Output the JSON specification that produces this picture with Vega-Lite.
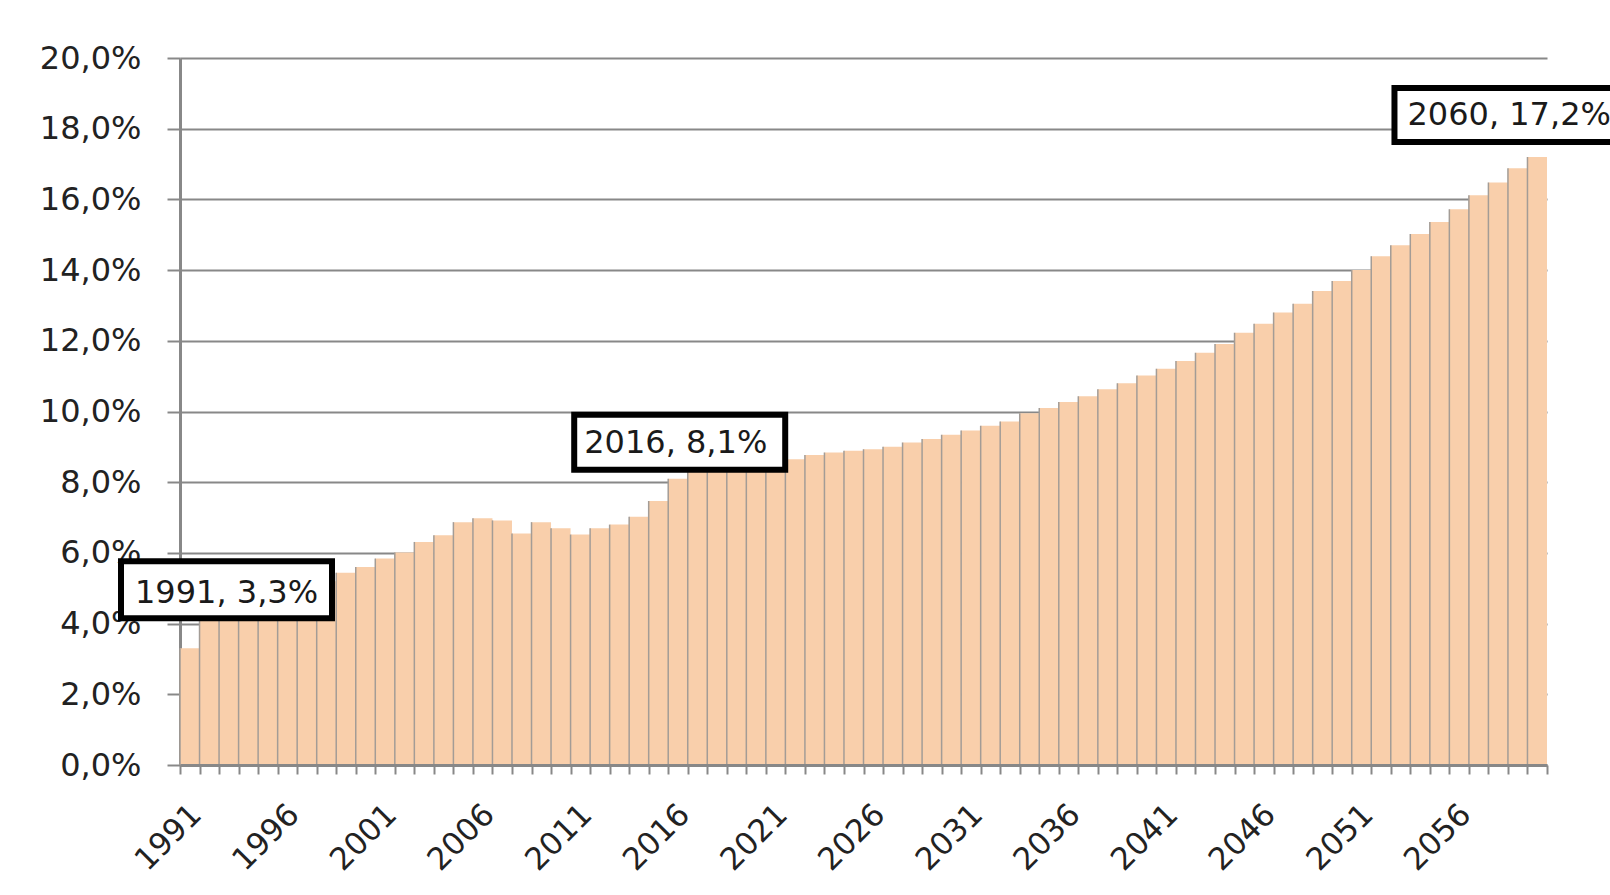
{
  "$schema": "https://vega.github.io/schema/vega-lite/v6.json",
  "width": 1367,
  "height": 707,
  "autosize": {"type": "none"},
  "padding": {"left": 180, "top": 58, "right": 63, "bottom": 130},
  "background": "white",
  "config": {"view": {"stroke": null}, "font": "DejaVu Sans"},
  "datasets": {
    "series": [
      {"year": 1991, "value": 3.3}, {"year": 1992, "value": 4.3}, {"year": 1993, "value": 4.5},
      {"year": 1994, "value": 4.7}, {"year": 1995, "value": 4.8}, {"year": 1996, "value": 4.9},
      {"year": 1997, "value": 5.0}, {"year": 1998, "value": 5.2}, {"year": 1999, "value": 5.44},
      {"year": 2000, "value": 5.6}, {"year": 2001, "value": 5.84}, {"year": 2002, "value": 6.01},
      {"year": 2003, "value": 6.31}, {"year": 2004, "value": 6.5}, {"year": 2005, "value": 6.87},
      {"year": 2006, "value": 6.98}, {"year": 2007, "value": 6.92}, {"year": 2008, "value": 6.55},
      {"year": 2009, "value": 6.87}, {"year": 2010, "value": 6.7}, {"year": 2011, "value": 6.52},
      {"year": 2012, "value": 6.7}, {"year": 2013, "value": 6.8}, {"year": 2014, "value": 7.02},
      {"year": 2015, "value": 7.47}, {"year": 2016, "value": 8.1}, {"year": 2017, "value": 8.4},
      {"year": 2018, "value": 8.45}, {"year": 2019, "value": 8.5}, {"year": 2020, "value": 8.55},
      {"year": 2021, "value": 8.6}, {"year": 2022, "value": 8.65}, {"year": 2023, "value": 8.77},
      {"year": 2024, "value": 8.84}, {"year": 2025, "value": 8.89}, {"year": 2026, "value": 8.93},
      {"year": 2027, "value": 9.0}, {"year": 2028, "value": 9.12}, {"year": 2029, "value": 9.22},
      {"year": 2030, "value": 9.34}, {"year": 2031, "value": 9.46}, {"year": 2032, "value": 9.6},
      {"year": 2033, "value": 9.72}, {"year": 2034, "value": 9.95}, {"year": 2035, "value": 10.1},
      {"year": 2036, "value": 10.27}, {"year": 2037, "value": 10.43}, {"year": 2038, "value": 10.63},
      {"year": 2039, "value": 10.8}, {"year": 2040, "value": 11.02}, {"year": 2041, "value": 11.21},
      {"year": 2042, "value": 11.43}, {"year": 2043, "value": 11.66}, {"year": 2044, "value": 11.91},
      {"year": 2045, "value": 12.23}, {"year": 2046, "value": 12.48}, {"year": 2047, "value": 12.8},
      {"year": 2048, "value": 13.05}, {"year": 2049, "value": 13.41}, {"year": 2050, "value": 13.69},
      {"year": 2051, "value": 14.0}, {"year": 2052, "value": 14.39}, {"year": 2053, "value": 14.7},
      {"year": 2054, "value": 15.02}, {"year": 2055, "value": 15.36}, {"year": 2056, "value": 15.72},
      {"year": 2057, "value": 16.12}, {"year": 2058, "value": 16.48}, {"year": 2059, "value": 16.88},
      {"year": 2060, "value": 17.2}
    ],
    "notes": [
      {"year": 1991, "value": 3.3, "label": "1991, 3,3%"},
      {"year": 2016, "value": 8.1, "label": "2016, 8,1%"},
      {"year": 2060, "value": 17.2, "label": "2060, 17,2%"}
    ]
  },
  "layer": [
    {
      "data": {"name": "series"},
      "mark": {"type": "bar", "color": "#F9CFAB"},
      "encoding": {
        "x": {
          "field": "year", "type": "ordinal",
          "scale": {"paddingInner": 0, "paddingOuter": 0},
          "axis": {
            "title": null,
            "labelAngle": -45,
            "labelAlign": "right",
            "labelBaseline": "top",
            "labelFontSize": 31,
            "labelColor": "#222222",
            "labelPadding": 25,
            "labelOffset": -4,
            "labelExpr": "(datum.value - 1991) % 5 == 0 ? datum.label : ''",
            "tickBand": "extent",
            "tickSize": 9,
            "tickWidth": 2,
            "tickColor": "#888888",
            "domainColor": "#888888",
            "domainWidth": 3,
            "zindex": 1
          }
        },
        "y": {
          "field": "value", "type": "quantitative",
          "scale": {"domain": [0, 20], "nice": false},
          "axis": {
            "title": null,
            "values": [0, 2, 4, 6, 8, 10, 12, 14, 16, 18, 20],
            "labelExpr": "replace(format(datum.value, '.1f'), '.', ',') + '%'",
            "labelFontSize": 32,
            "labelColor": "#222222",
            "labelPadding": 26,
            "tickSize": 13,
            "tickWidth": 2,
            "tickColor": "#888888",
            "domainColor": "#888888",
            "domainWidth": 3,
            "gridColor": "#888888",
            "gridWidth": 2,
            "gridOpacity": 1
          }
        }
      }
    },
    {
      "data": {"name": "series"},
      "mark": {"type": "rule", "color": "#A39C96", "strokeWidth": 1.5},
      "encoding": {
        "x": {"field": "year", "type": "ordinal", "bandPosition": 0},
        "y": {"field": "value", "type": "quantitative"},
        "y2": {"datum": 0}
      }
    },
    {
      "data": {"name": "notes"},
      "transform": [{"filter": "datum.year == 1991"}],
      "mark": {"type": "rect", "fill": "white", "stroke": "black", "strokeWidth": 6,
               "xOffset": -59, "x2Offset": 152, "yOffset": -87, "y2Offset": -30},
      "encoding": {
        "x": {"field": "year", "type": "ordinal", "bandPosition": 0},
        "x2": {"field": "year", "bandPosition": 0},
        "y": {"field": "value", "type": "quantitative"},
        "y2": {"field": "value"}
      }
    },
    {
      "data": {"name": "notes"},
      "transform": [{"filter": "datum.year == 1991"}],
      "mark": {"type": "text", "align": "left", "baseline": "middle", "fontSize": 32, "color": "#1a1a1a", "dx": -45, "dy": -55},
      "encoding": {
        "x": {"field": "year", "type": "ordinal", "bandPosition": 0},
        "y": {"field": "value", "type": "quantitative"},
        "text": {"field": "label"}
      }
    },
    {
      "data": {"name": "notes"},
      "transform": [{"filter": "datum.year == 2016"}],
      "mark": {"type": "rect", "fill": "white", "stroke": "black", "strokeWidth": 6,
               "xOffset": -94, "x2Offset": 117, "yOffset": -64, "y2Offset": -9},
      "encoding": {
        "x": {"field": "year", "type": "ordinal", "bandPosition": 0},
        "x2": {"field": "year", "bandPosition": 0},
        "y": {"field": "value", "type": "quantitative"},
        "y2": {"field": "value"}
      }
    },
    {
      "data": {"name": "notes"},
      "transform": [{"filter": "datum.year == 2016"}],
      "mark": {"type": "text", "align": "left", "baseline": "middle", "fontSize": 32, "color": "#1a1a1a", "dx": -84, "dy": -36},
      "encoding": {
        "x": {"field": "year", "type": "ordinal", "bandPosition": 0},
        "y": {"field": "value", "type": "quantitative"},
        "text": {"field": "label"}
      }
    },
    {
      "data": {"name": "notes"},
      "transform": [{"filter": "datum.year == 2060"}],
      "mark": {"type": "rect", "fill": "white", "stroke": "black", "strokeWidth": 6, "clip": false,
               "xOffset": -133, "x2Offset": 120, "yOffset": -69, "y2Offset": -15},
      "encoding": {
        "x": {"field": "year", "type": "ordinal", "bandPosition": 0},
        "x2": {"field": "year", "bandPosition": 0},
        "y": {"field": "value", "type": "quantitative"},
        "y2": {"field": "value"}
      }
    },
    {
      "data": {"name": "notes"},
      "transform": [{"filter": "datum.year == 2060"}],
      "mark": {"type": "text", "align": "left", "baseline": "middle", "fontSize": 32, "color": "#1a1a1a", "dx": -120, "dy": -42},
      "encoding": {
        "x": {"field": "year", "type": "ordinal", "bandPosition": 0},
        "y": {"field": "value", "type": "quantitative"},
        "text": {"field": "label"}
      }
    }
  ]
}
